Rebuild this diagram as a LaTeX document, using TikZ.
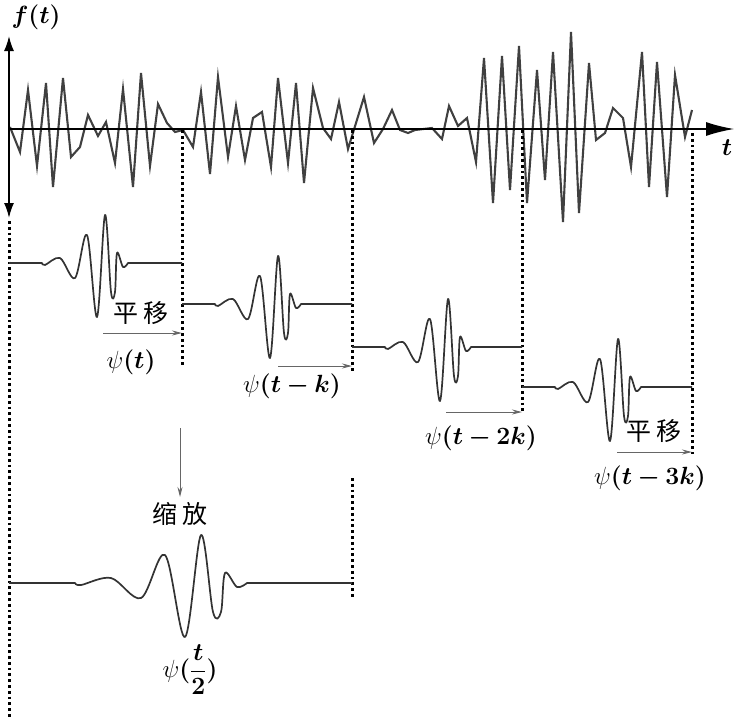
\documentclass[tikz,border=0pt]{standalone}
\usepackage{amsmath}
\usepackage{bm}
\usepackage{fontspec}
\newfontfamily\cjk{Noto Sans CJK SC}
\usepackage{tikz}
\usetikzlibrary{positioning, arrows.meta, calc}

% one wavelet, offsets from the left end of its base line
\newcommand{\drawwave}[1]{\draw[wave] (0,0) -- (33,0) -- plot[smooth, tension=0.55] coordinates {(33,0) (36,2) (51,-5) (66,15) (78,-28) (88,54) (96,-48) (102,29) (106,29) (108,-10) (114,4) (119,0)} -- (#1,0);}

\begin{document}
\begin{tikzpicture}[x=1pt, y=-1pt,
        sig/.style={black!75, line width=2.1pt},
        wave/.style={black!80, line width=1.7pt, line join=round},
        guide/.style={line width=3pt, dash pattern=on 2.8pt off 3pt},
        shiftarr/.style={black!60, line width=1pt, -{Stealth[length=10pt, width=5pt]}},
        lbl/.style={font=\fontsize{25}{28}\selectfont},
        cjklbl/.style={font={\cjk\fontsize{25}{28}\selectfont}}]
    \useasboundingbox (0,0) rectangle (735,718);

    \coordinate (O) at (9,129);
    \coordinate (ytop) at (9,36);
    \coordinate (ybot) at (9,218);
    \coordinate (xend) at (734,129);

    % signal
    \draw[sig] plot coordinates {(10,127) (20,152) (28,90) (37,166) (46,83) (53,187) (63,78) (71,157) (80,147) (88,115) (98,136) (106,122) (115,163) (123,89) (133,187) (141,73) (150,166) (158,104) (167,123) (175,132) (183,130) (193,147) (201,92) (210,174) (218,77) (228,157) (236,106) (245,160) (253,118) (262,112) (271,167) (278,78) (288,163) (296,83) (304,183) (313,88) (323,128) (331,139) (339,102) (348,149) (364,97) (374,143) (383,129) (392,110) (400,130) (408,133) (415,130) (432,128) (442,139) (449,106) (458,126) (467,118) (476,162) (484,58) (493,203) (502,56) (510,190) (519,46) (527,203) (537,70) (545,180) (553,52) (563,222) (571,32) (579,213) (589,63) (596,140) (605,133) (613,108) (623,118) (631,167) (642,52) (649,187) (657,62) (667,197) (675,75) (685,137) (692,110)};

    % axes
    \draw[line width=1.6pt, {Latex[length=15pt,width=10pt]}-{Latex[length=15pt,width=10pt]}] (ytop) -- (ybot);
    \draw[line width=1.3pt, -{Latex[length=28pt,width=14pt]}] (O) -- (xend);

    % dotted guides
    \foreach \x/\ya/\yb in {9/221/718, 182/130/365, 352/130/373, 522/130/414, 692/133/454, 352/478/597}
    {
        \draw[guide] (\x,\ya) -- (\x,\yb);
    }

    % shifted wavelets
    \foreach \xs/\ys/\w in {9/263/173, 182/304/170, 352/347/170, 522/387/170}
    {
        \begin{scope}[shift={(\xs,\ys)}]
            \drawwave{\w}
        \end{scope}
    }

    % scaled wavelet
    \begin{scope}[shift={(9,583)}, xscale=2]
        \drawwave{171.5}
    \end{scope}

    % arrows
    \foreach \n/\xa/\xb/\y in {1/103/182/333, 2/278/352/366, 3/446/522/412, 4/617/692/452}
    {
        \coordinate (from\n) at (\xa,\y);
        \coordinate (to\n) at (\xb,\y);
        \draw[shiftarr] (from\n) -- (to\n);
    }
    \coordinate (zoomtop) at (180,428);
    \coordinate (zoombot) at (180,497);
    \draw[shiftarr] (zoomtop) -- (zoombot);

    % labels
    \node[lbl] (ft) at (36,17) {$\bm{f(t)}$};
    \node[lbl] (tlab) at (727,148) {$\bm{t}$};
    \node[cjklbl] (shiftA) at (141,313) {平\,移};
    \node[lbl] (psi0) at (131,362) {$\psi\bm{(t)}$};
    \node[lbl] (psi1) at (292,386) {$\psi\bm{(t-k)}$};
    \node[lbl] (psi2) at (481,438) {$\psi\bm{(t-2k)}$};
    \node[cjklbl] (shiftB) at (654,431) {平\,移};
    \node[lbl] (psi3) at (650,478) {$\psi\bm{(t-3k)}$};
    \node[cjklbl] (zoomlbl) at (180,514) {缩\,放};
    \node[lbl] (psihalf) at (190,670) {$\psi\bm{(}\dfrac{\bm{t}}{\bm{2}}\bm{)}$};
\end{tikzpicture}
\end{document}
